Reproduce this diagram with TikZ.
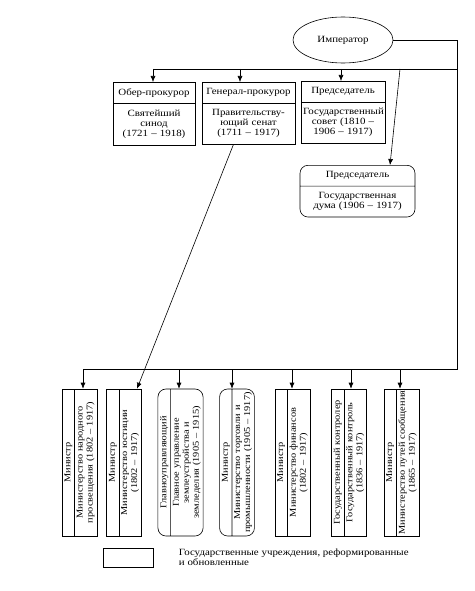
\documentclass[tikz,border=0pt]{standalone}
\usepackage{fontspec}
\setmainfont{Liberation Serif}[FakeStretch=1.15]
\usetikzlibrary{shapes.geometric,shapes.multipart,arrows.meta}

\begin{document}
\begin{tikzpicture}[x=1pt,y=-1pt,
  font=\fontsize{9.5}{10}\selectfont,
  line width=0.6pt,
  arr/.style={-{Latex[length=6pt,width=5pt]}},
  organ/.style={draw, rectangle split, rectangle split parts=2,
    align=center, inner xsep=2pt, inner ysep=6pt, anchor=north},
  ministry/.style={organ, anchor=center, rotate=90, inner ysep=2pt,
    inner xsep=1pt, font=\fontsize{9}{10}\selectfont,
    text width=145pt, minimum width=147pt},
  emperor/.style={draw, ellipse, minimum width=100pt, minimum height=46pt}
]
\useasboundingbox (0,0) rectangle (474,591);

% head of state
\node[emperor] (imp) at (343,40) {Император};

% upper level
\node[organ, text width=78pt, minimum height=64pt] (sinod) at (154,82)
  {Обер-прокурор \nodepart{two} Святейший\\синод\\(1721 -- 1918)};
\node[organ, text width=89pt, minimum height=64pt] (senat) at (248.5,82)
  {Генерал-прокурор \nodepart{two} Правительству-\\ющий сенат\\(1711 -- 1917)};
\node[organ, text width=80pt, minimum height=66pt] (sovet) at (343,81)
  {Председатель \nodepart{two} Государственный\\совет (1810 --\\1906 -- 1917)};
\node[organ, rounded corners=8pt, text width=111pt, minimum height=60pt] (duma) at (357.5,165)
  {Председатель \nodepart{two} Государственная\\дума (1906 -- 1917)};

% ministries
\node[ministry, minimum height=35pt] (prosv) at (79.5,462.5)
  {Министр \nodepart{two} Министерство народного\\просвещения (1802 -- 1917)};
\node[ministry, minimum height=38pt] (justice) at (124,462.5)
  {Министр \nodepart{two} Министерство юстиции\\(1802 -- 1917)};
\node[ministry, rounded corners=8pt, minimum height=49pt] (zemle) at (180.5,462.5)
  {Главноуправляющий \nodepart{two} Главное управление\\землеустройства и\\земледелия (1905 -- 1915)};
\node[ministry, rounded corners=8pt, minimum height=50pt] (torg) at (237,462.5)
  {Министр \nodepart{two} Министерство торговли и\\промышленности (1905 -- 1917)};
\node[ministry, minimum height=35pt] (finans) at (292.5,462.5)
  {Министр \nodepart{two} Министерство финансов\\(1802 -- 1917)};
\node[ministry, minimum height=38pt] (kontrol) at (349,462.5)
  {Государственный контролер \nodepart{two} Государственный контроль\\(1836 -- 1917)};
\node[ministry, minimum height=37pt] (puti) at (401.5,462.5)
  {Министр \nodepart{two} Министерство путей сообщения\\(1865 -- 1917)};

% legend
\node[draw, minimum width=50pt, minimum height=19pt] (key) at (128,557.5) {};
\node[anchor=west, align=left] (keytext) at ([xshift=22pt]key.east)
  {Государственные учреждения, реформированные\\и обновленные};

% buses
\coordinate (topL) at (153,69);
\coordinate (topR) at (457,69);
\coordinate (busL) at (83,369);
\coordinate (busR) at (457,369);
\draw (imp.east) -| (busR) -- (busL);
\draw (topL) -- (topR);

% drops to the upper level
\coordinate (dSinod) at (153,69);
\coordinate (dSenat) at (240,69);
\coordinate (dSovet) at (341,69);
\coordinate (dDuma) at (400,69);
\draw[arr] (dSinod) -- (dSinod |- sinod.north);
\draw[arr] (dSenat) -- (dSenat |- senat.north);
\draw[arr] (dSovet) -- (dSovet |- sovet.north);
\draw[arr] (dDuma) -- ([xshift=32.5pt]duma.north);

% drops to the ministries
\coordinate (dProsv) at (83,369);
\coordinate (dZemle) at (179,369);
\coordinate (dTorg) at (232,369);
\coordinate (dFinans) at (292,369);
\coordinate (dKontrol) at (351,369);
\coordinate (dPuti) at (400,369);
\foreach \m in {Prosv,Zemle,Torg,Finans,Kontrol,Puti}
  \draw[arr] (d\m) -- (d\m |- prosv.east);
\draw[arr] ([xshift=-15pt]senat.south) -- ([xshift=13pt]justice.east);
\end{tikzpicture}
\end{document}
